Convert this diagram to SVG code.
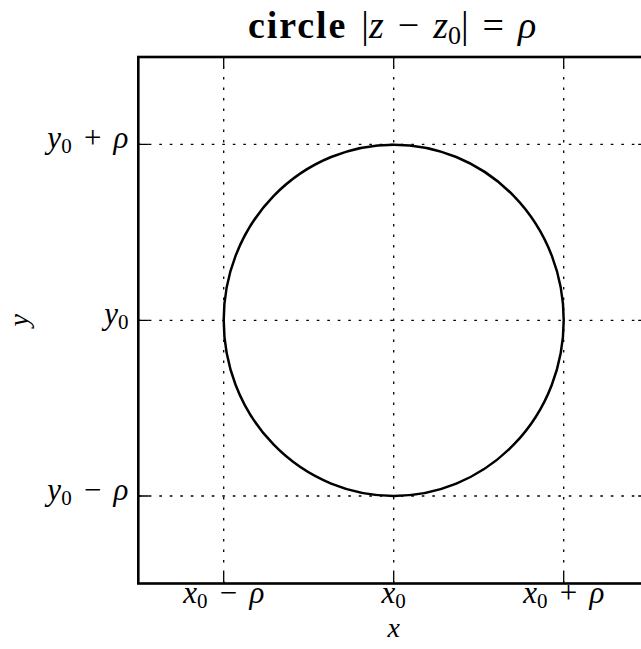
<svg xmlns="http://www.w3.org/2000/svg" width="641" height="649" viewBox="0 0 641 649">
<style>
.bg { fill: #ffffff; }
.frame { fill: none; stroke: #000; stroke-width: 2.6; }
.grid { fill: none; stroke: #000; stroke-width: 1.3; stroke-dasharray: 2.6 7.9; }
.tick { fill: none; stroke: #000; stroke-width: 1.3; }
.curve { fill: none; stroke: #000; stroke-width: 2.5; }
.lbl { font-family: "Liberation Serif", "Times New Roman", serif; font-size: 31px; fill: #000; word-spacing: 4.5px; }
.axl { font-family: "Liberation Serif", "Times New Roman", serif; font-size: 28px; font-style: italic; fill: #000; }
.title { font-family: "Liberation Serif", "Times New Roman", serif; font-size: 38px; fill: #000; word-spacing: 4.5px; }
.it { font-style: italic; }
.bf { font-weight: bold; letter-spacing: 1.9px; }
.sub { font-size: 21px; font-style: normal; }
.subt { font-size: 26px; font-style: normal; }
</style>
<rect class="bg" x="0" y="0" width="641" height="649"/>

<g id="title">
  <text class="title" x="248" y="37.5"><tspan class="bf">circle</tspan> |<tspan class="it">z</tspan> − <tspan class="it">z</tspan><tspan class="subt" dy="6">0</tspan><tspan dy="-6">| = </tspan><tspan class="it">ρ</tspan></text>
</g>

<g id="grid">
  <path class="grid" d="M138.3,144.3 H648.7 M138.3,320.3 H648.7 M138.3,496 H648.7"/>
  <path class="grid" d="M223.7,583.5 V57 M393.7,583.5 V57 M563.7,583.5 V57"/>
</g>

<g id="circle">
  <ellipse class="curve" cx="393.7" cy="320.3" rx="170" ry="175.6"/>
</g>

<g id="axes">
  <rect class="frame" x="138.3" y="57" width="510.4" height="526.5"/>
  <path class="tick" d="M138.3,144.3 h10.5 M138.3,320.3 h10.5 M138.3,496 h10.5 M648.7,144.3 h-10.5 M648.7,320.3 h-10.5 M648.7,496 h-10.5"/>
  <path class="tick" d="M223.7,583.5 v-10.5 M393.7,583.5 v-10.5 M563.7,583.5 v-10.5 M223.7,57 v10.5 M393.7,57 v10.5 M563.7,57 v10.5"/>
</g>

<g id="ytick-labels">
  <text class="lbl" x="128.5" y="148.3" text-anchor="end"><tspan class="it">y</tspan><tspan class="sub" dy="5">0</tspan><tspan dy="-5"> + </tspan><tspan class="it">ρ</tspan></text>
  <text class="lbl" x="128.5" y="324.3" text-anchor="end"><tspan class="it">y</tspan><tspan class="sub" dy="5">0</tspan></text>
  <text class="lbl" x="128.5" y="500" text-anchor="end"><tspan class="it">y</tspan><tspan class="sub" dy="5">0</tspan><tspan dy="-5"> − </tspan><tspan class="it">ρ</tspan></text>
</g>

<g id="xtick-labels">
  <text class="lbl" x="223.7" y="602.5" text-anchor="middle"><tspan class="it">x</tspan><tspan class="sub" dy="5">0</tspan><tspan dy="-5"> − </tspan><tspan class="it">ρ</tspan></text>
  <text class="lbl" x="393.7" y="602.5" text-anchor="middle"><tspan class="it">x</tspan><tspan class="sub" dy="5">0</tspan></text>
  <text class="lbl" x="563.7" y="602.5" text-anchor="middle"><tspan class="it">x</tspan><tspan class="sub" dy="5">0</tspan><tspan dy="-5"> + </tspan><tspan class="it">ρ</tspan></text>
</g>

<g id="axis-labels">
  <text class="axl" x="393.7" y="637" text-anchor="middle">x</text>
  <text class="axl" x="0" y="0" text-anchor="middle" transform="translate(27.5,320.3) rotate(-90)">y</text>
</g>
</svg>
